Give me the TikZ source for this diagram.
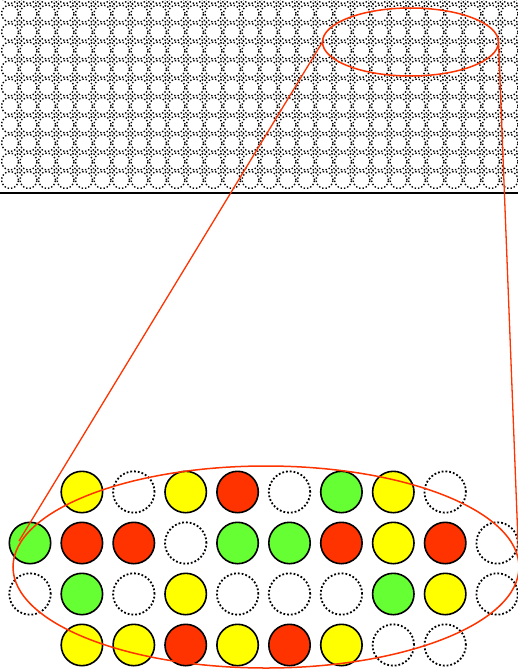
\documentclass[tikz,border=0pt]{standalone}
\usetikzlibrary{shapes.geometric}
\definecolor{cy}{HTML}{FFFF00}
\definecolor{cr}{HTML}{FF3300}
\definecolor{cg}{HTML}{66FF33}
\begin{document}
\begin{tikzpicture}[x=1pt,y=-1pt,
  topdot/.style={draw=black, line width=1.4pt, dash pattern=on 1.4pt off 2pt},
  smalldot/.style={draw=black, line width=1.4pt, dash pattern=on 1.4pt off 1.4pt},
  cY/.style={draw=black, fill=cy, line width=1.6pt},
  cR/.style={draw=black, fill=cr, line width=1.6pt},
  cG/.style={draw=black, fill=cg, line width=1.6pt},
  cD/.style={draw=black, line width=1.8pt, dash pattern=on 1.8pt off 2pt},
  cN/.style={},
  lens/.style={ellipse, draw=cr, line width=1.5pt, inner sep=0pt, outer sep=0pt},
  redline/.style={draw=cr, line width=1.3pt}]
\useasboundingbox (0,0) rectangle (518,669);
% top texture
\begin{scope}
\clip (0,0) rectangle (518,191);
\foreach \i in {0,...,28} \foreach \j in {0,...,10} {
  \draw[topdot] (10+18.5*\i, 180-18.5*\j) circle (8.5pt);
  \draw[smalldot] (19.25+18.5*\i, 170.75-18.5*\j) circle (2.4pt);
}
\end{scope}
\draw[line width=2pt] (0,193) -- (518,193);
% bottom circles
\foreach \row [count=\r from 0] in {{N,Y,D,Y,R,D,G,Y,D,N},{G,R,R,D,G,G,R,Y,R,D},{D,G,D,Y,D,D,D,G,Y,D},{N,Y,Y,R,Y,R,Y,D,D,N}} {
  \foreach \c [count=\i from 0] in \row {
    \path[c\c] (30+51.9*\i, 492+51*\r) circle (20.7pt);
  }
}
% lenses
\node[lens, minimum width=506pt, minimum height=202pt] (big) at (266,567) {};
\node[lens, minimum width=176pt, minimum height=68pt] (small) at (410.5,42) {};
\coordinate (lend) at (19,541);
\draw[redline] (small.west) -- (lend);
\draw[redline] (small.east) -- (big.east);
\end{tikzpicture}
\end{document}
